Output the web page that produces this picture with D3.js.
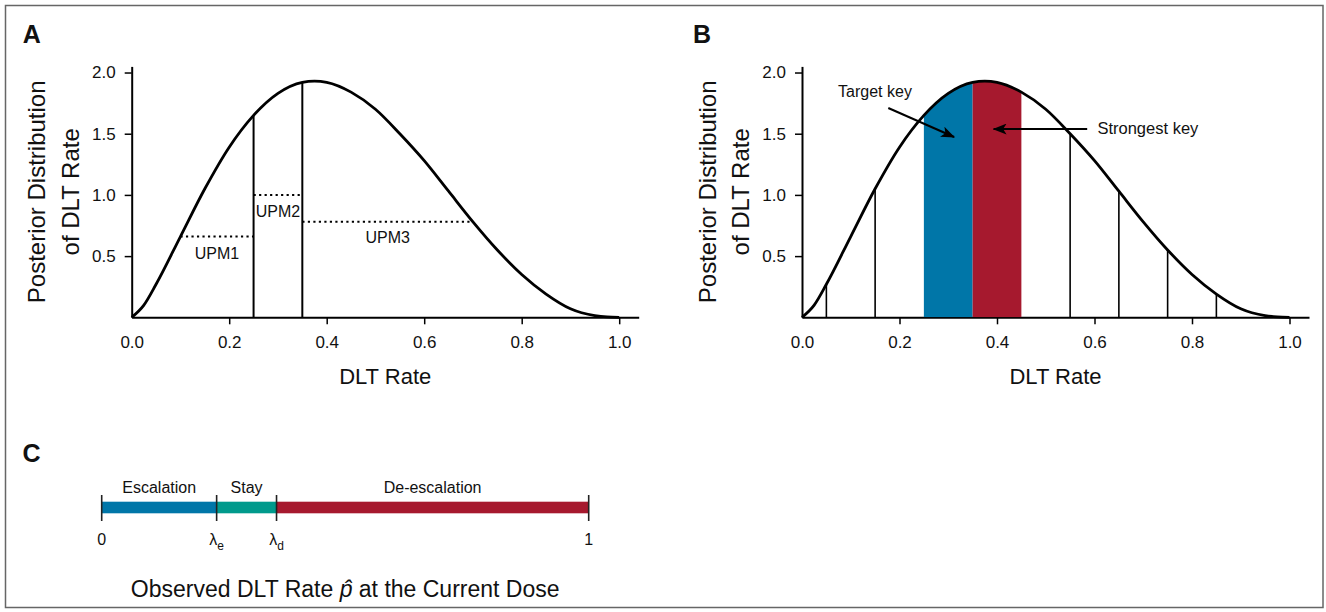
<!DOCTYPE html>
<html>
<head>
<meta charset="utf-8">
<script src="https://cdn.jsdelivr.net/npm/d3@7"></script>
<style>
  body { margin: 0; background: #fff; }
  text { font-family: "Liberation Sans", Arial, Helvetica, sans-serif; fill: #111; }
</style>
</head>
<body>
<script>
// posterior density of the DLT rate
var rateGrid   = [0, 0.025, 0.05, 0.1, 0.15, 0.2, 0.25, 0.3, 0.35, 0.375, 0.4, 0.45, 0.5, 0.55, 0.6, 0.65, 0.7, 0.75, 0.8, 0.85, 0.9, 0.95, 0.975, 1.0];
var densityVal = [0, 0.10, 0.27, 0.66, 1.05, 1.39, 1.65, 1.83, 1.92, 1.93, 1.92, 1.84, 1.70, 1.50, 1.28, 1.03, 0.78, 0.55, 0.35, 0.19, 0.07, 0.014, 0.003, 0];

// panel A: unit probability mass intervals
var upmNames = ["UPM1", "UPM2", "UPM3"];
var upmFrom  = [0.10, 0.25, 0.35];
var upmTo    = [0.25, 0.35, 0.70];
var upmValue = [0.66, 1.00, 0.78];
var upmEdges = [0.25, 0.35];

// panel B: keys
var keyEdges   = [0.05, 0.15, 0.55, 0.65, 0.75, 0.85];
var targetKey  = [0.25, 0.35];
var strongKey  = [0.35, 0.45];

// axis ticks
var xTicks = [0, 0.2, 0.4, 0.6, 0.8, 1.0];
var yTicks = [0.5, 1.0, 1.5, 2.0];

// panel C: decision boundaries
var boundNames  = ["0", "λe", "λd", "1"];
var boundValues = [0, 0.236, 0.359, 1];
var zoneNames   = ["Escalation", "Stay", "De-escalation"];
var zoneColors  = ["#0076a8", "#009a8c", "#a6192e"];

var width = 1326, height = 612;

var svg = d3.select("body").append("svg")
    .attr("width", width)
    .attr("height", height);

// outer frame
svg.append("rect")
    .attr("x", 5.5).attr("y", 5.5)
    .attr("width", 1317.5).attr("height", 602)
    .attr("fill", "none")
    .attr("stroke", "#666")
    .attr("stroke-width", 1.5);

var curveData = rateGrid.map(function(r, i) { return {x: r, y: densityVal[i]}; });

function densityAt(r) {
    var i = rateGrid.indexOf(r);
    return densityVal[i];
}

var yScale = d3.scaleLinear().domain([0, 2.05]).range([317.3, 66.4]);

function drawPanel(left, letter) {
    var x = d3.scaleLinear().domain([0, 1.04]).range([left, left + 1.04 * 487.5]);
    var y = yScale;
    var g = svg.append("g");

    var line = d3.line()
        .x(function(d) { return x(d.x); })
        .y(function(d) { return y(d.y); })
        .curve(d3.curveMonotoneX);

    var xAxis = g.append("g")
        .attr("transform", "translate(0," + y(0) + ")")
        .call(d3.axisBottom(x).tickValues(xTicks).tickSize(7).tickSizeOuter(0).tickPadding(12)
            .tickFormat(d3.format(".1f")));
    var yAxis = g.append("g")
        .attr("transform", "translate(" + left + ",0)")
        .call(d3.axisLeft(y).tickValues(yTicks).tickSize(7).tickSizeOuter(0).tickPadding(9)
            .tickFormat(d3.format(".1f")));

    [xAxis, yAxis].forEach(function(ax) {
        ax.select(".domain").attr("stroke", "#000").attr("stroke-width", 2);
        ax.selectAll(".tick line").attr("stroke", "#000").attr("stroke-width", 1.5);
        ax.selectAll(".tick text")
            .style("font-family", "'Liberation Sans', Arial, sans-serif")
            .style("font-size", "17px")
            .attr("fill", "#111");
    });
    xAxis.selectAll(".tick line").filter(function(d) { return d === 0; }).remove();

    // axis titles
    var ymid = (y.range()[0] + y.range()[1]) / 2;
    g.append("text")
        .attr("transform", "translate(" + (left - 86.5) + "," + ymid + ") rotate(-90)")
        .attr("text-anchor", "middle")
        .style("font-size", "24px")
        .text("Posterior Distribution");
    g.append("text")
        .attr("transform", "translate(" + (left - 53) + "," + ymid + ") rotate(-90)")
        .attr("text-anchor", "middle")
        .style("font-size", "24px")
        .text("of DLT Rate");
    g.append("text")
        .attr("x", (x.range()[0] + x.range()[1]) / 2)
        .attr("y", 384)
        .attr("text-anchor", "middle")
        .style("font-size", "22px")
        .text("DLT Rate");

    g.append("text")
        .attr("x", left - 109)
        .attr("y", 43.3)
        .style("font-size", "25px")
        .style("font-weight", "bold")
        .text(letter);

    return {g: g, x: x, y: y, line: line};
}

// ---------- panel A ----------
var A = drawPanel(131.7, "A");

A.g.selectAll(".upm-edge").data(upmEdges).enter()
    .append("line")
    .attr("x1", function(d) { return A.x(d); })
    .attr("x2", function(d) { return A.x(d); })
    .attr("y1", A.y(0))
    .attr("y2", function(d) { return A.y(densityAt(d)); })
    .attr("stroke", "#000")
    .attr("stroke-width", 2);

A.g.selectAll(".upm-line").data(upmNames).enter()
    .append("line")
    .attr("x1", function(d, i) { return A.x(upmFrom[i]); })
    .attr("x2", function(d, i) { return A.x(upmTo[i]); })
    .attr("y1", function(d, i) { return A.y(upmValue[i]); })
    .attr("y2", function(d, i) { return A.y(upmValue[i]); })
    .attr("stroke", "#000")
    .attr("stroke-width", 2)
    .attr("stroke-dasharray", "2.2,3.3");

// labels sit just under each dotted line
var upmDy = [22, 22, 21.5];
A.g.selectAll(".upm-label").data(upmNames).enter()
    .append("text")
    .attr("x", function(d, i) { return (A.x(upmFrom[i]) + A.x(upmTo[i])) / 2; })
    .attr("y", function(d, i) { return A.y(upmValue[i]) + upmDy[i]; })
    .attr("text-anchor", "middle")
    .style("font-size", "16px")
    .text(function(d) { return d; });

A.g.append("path")
    .datum(curveData)
    .attr("d", A.line)
    .attr("fill", "none")
    .attr("stroke", "#000")
    .attr("stroke-width", 2.8);

// ---------- panel B ----------
var B = drawPanel(802, "B");

var area = d3.area()
    .x(function(d) { return B.x(d.x); })
    .y0(B.y(0))
    .y1(function(d) { return B.y(d.y); })
    .curve(d3.curveMonotoneX);

var defs = svg.append("defs");
[["clipTarget", targetKey], ["clipStrong", strongKey]].forEach(function(c) {
    defs.append("clipPath").attr("id", c[0])
        .append("rect")
        .attr("x", B.x(c[1][0]))
        .attr("width", B.x(c[1][1]) - B.x(c[1][0]))
        .attr("y", 0)
        .attr("height", B.y(0));
});

B.g.append("path").datum(curveData).attr("d", area)
    .attr("fill", zoneColors[0]).attr("clip-path", "url(#clipTarget)");
B.g.append("path").datum(curveData).attr("d", area)
    .attr("fill", zoneColors[2]).attr("clip-path", "url(#clipStrong)");

B.g.selectAll(".key-edge").data(keyEdges).enter()
    .append("line")
    .attr("x1", function(d) { return B.x(d); })
    .attr("x2", function(d) { return B.x(d); })
    .attr("y1", B.y(0))
    .attr("y2", function(d) { return B.y(densityAt(d)); })
    .attr("stroke", "#000")
    .attr("stroke-width", 1.6);

B.g.append("path")
    .datum(curveData)
    .attr("d", B.line)
    .attr("fill", "none")
    .attr("stroke", "#000")
    .attr("stroke-width", 2.8);

defs.append("marker")
    .attr("id", "arrow")
    .attr("viewBox", "0 0 14 11")
    .attr("refX", 13).attr("refY", 5.5)
    .attr("markerWidth", 14).attr("markerHeight", 11)
    .attr("markerUnits", "userSpaceOnUse")
    .attr("orient", "auto")
    .append("path")
    .attr("d", "M0,0 L14,5.5 L0,11 L3.5,5.5 Z")
    .attr("fill", "#000");

// annotations (data coordinates)
B.g.append("text")
    .attr("x", B.x(0.074)).attr("y", B.y(1.80))
    .style("font-size", "16px")
    .text("Target key");
B.g.append("line")
    .attr("x1", B.x(0.177)).attr("y1", B.y(1.71))
    .attr("x2", B.x(0.312)).attr("y2", B.y(1.473))
    .attr("stroke", "#000").attr("stroke-width", 2)
    .attr("marker-end", "url(#arrow)");

B.g.append("text")
    .attr("x", B.x(0.606)).attr("y", B.y(1.50))
    .style("font-size", "16.5px")
    .text("Strongest key");
B.g.append("line")
    .attr("x1", B.x(0.585)).attr("y1", B.y(1.538))
    .attr("x2", B.x(0.393)).attr("y2", B.y(1.538))
    .attr("stroke", "#000").attr("stroke-width", 2)
    .attr("marker-end", "url(#arrow)");

// ---------- panel C ----------
var c = svg.append("g");
var cx = d3.scaleLinear().domain([0, 1]).range([101.7, 588.7]);
var barTop = 501.7, barH = 11.6;

c.append("text")
    .attr("x", 22.4).attr("y", 461.7)
    .style("font-size", "25px")
    .style("font-weight", "bold")
    .text("C");

c.selectAll(".zone").data(zoneNames).enter()
    .append("rect")
    .attr("x", function(d, i) { return cx(boundValues[i]); })
    .attr("width", function(d, i) { return cx(boundValues[i + 1]) - cx(boundValues[i]); })
    .attr("y", barTop)
    .attr("height", barH)
    .attr("fill", function(d, i) { return zoneColors[i]; });

c.selectAll(".zone-label").data(zoneNames).enter()
    .append("text")
    .attr("x", function(d, i) { return (cx(boundValues[i]) + cx(boundValues[i + 1])) / 2; })
    .attr("y", 493.3)
    .attr("text-anchor", "middle")
    .style("font-size", "16px")
    .text(function(d) { return d; });

c.selectAll(".bound").data(boundValues).enter()
    .append("line")
    .attr("x1", function(d) { return cx(d); })
    .attr("x2", function(d) { return cx(d); })
    .attr("y1", 495).attr("y2", 521)
    .attr("stroke", "#222")
    .attr("stroke-width", 1.6);

var bl = c.selectAll(".bound-label").data(boundNames).enter()
    .append("text")
    .attr("x", function(d, i) { return cx(boundValues[i]); })
    .attr("y", 545)
    .attr("text-anchor", "middle")
    .style("font-size", "16px");
bl.append("tspan").text(function(d) { return d.charAt(0); });
bl.append("tspan")
    .attr("dy", 5)
    .style("font-size", "12px")
    .text(function(d) { return d.slice(1); });

var title = c.append("text")
    .attr("x", cx(0.5))
    .attr("y", 596.7)
    .attr("text-anchor", "middle")
    .style("font-size", "23px");
title.append("tspan").text("Observed DLT Rate ");
title.append("tspan").style("font-style", "italic").text("p\u0302");
title.append("tspan").text(" at the Current Dose");
</script>
</body>
</html>
